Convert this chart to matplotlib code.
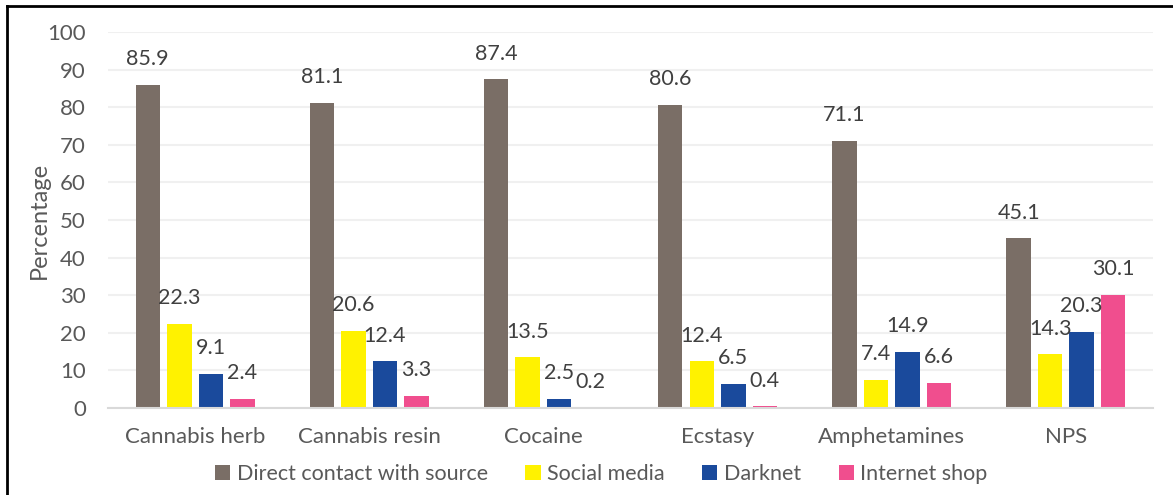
import matplotlib.pyplot as plt
import numpy as np

plt.rcParams['font.family'] = ['Lato', 'DejaVu Sans']

categories = ["Cannabis herb", "Cannabis resin", "Cocaine", "Ecstasy", "Amphetamines", "NPS"]
series_names = ["Direct contact with source", "Social media", "Darknet", "Internet shop"]
direct = [85.9, 81.1, 87.4, 80.6, 71.1, 45.1]
social = [22.3, 20.6, 13.5, 12.4, 7.4, 14.3]
darknet = [9.1, 12.4, 2.5, 6.5, 14.9, 20.3]
shop = [2.4, 3.3, 0.2, 0.4, 6.6, 30.1]
colors = ["#7a6e66", "#fff200", "#1a4a9c", "#f04e8e"]

text_col = "#595959"

fig = plt.figure(figsize=(11.73, 4.95), dpi=100)
ax = fig.add_axes([108 / 1173, 87 / 495, 1045 / 1173, 376 / 495])

x = np.arange(len(categories))
width = 0.14
step = 0.181
for i, (vals, name, col) in enumerate(zip([direct, social, darknet, shop], series_names, colors)):
    pos = x + (i - 1.5) * step
    ax.bar(pos, vals, width, color=col, label=name, zorder=2)
    for p, v in zip(pos, vals):
        ax.annotate(f"{v:.1f}", (p, v), xytext=(0, 18.5), textcoords="offset points",
                    ha="center", va="center", fontsize=15.5, color="#404040")

ax.set_xlim(-0.5, len(categories) - 0.5)
ax.set_ylim(0, 100)
ax.set_yticks(range(0, 101, 10))
ax.yaxis.grid(True, color="#f0f0f0", linewidth=1.5, zorder=0)
ax.set_axisbelow(True)
for s in ["top", "right", "left"]:
    ax.spines[s].set_visible(False)
ax.spines["bottom"].set_color("#d9d9d9")
ax.spines["bottom"].set_linewidth(1.5)
ax.tick_params(axis="both", length=0, labelsize=16, colors=text_col)
ax.tick_params(axis="y", pad=16)
ax.tick_params(axis="x", pad=14)
ax.set_xticks(x)
ax.set_xticklabels(categories)
ax.set_ylabel("Percentage", fontsize=17, color=text_col)
ax.yaxis.set_label_coords(-0.056, 0.5)

ax.legend(loc="center", bbox_to_anchor=(0.472, -0.175), ncol=4, frameon=False,
          fontsize=15.5, labelcolor=text_col, handlelength=0.7, handleheight=0.7,
          handletextpad=0.3, columnspacing=1.75)

# border (top and left edges visible)
fig.add_artist(plt.Line2D([7 / 1173, 7 / 1173], [0, 1 - 6 / 495], transform=fig.transFigure, color="black", linewidth=2))
fig.add_artist(plt.Line2D([7 / 1173, 1], [1 - 6 / 495, 1 - 6 / 495], transform=fig.transFigure, color="black", linewidth=2))

fig.savefig("out.png", dpi=100)
